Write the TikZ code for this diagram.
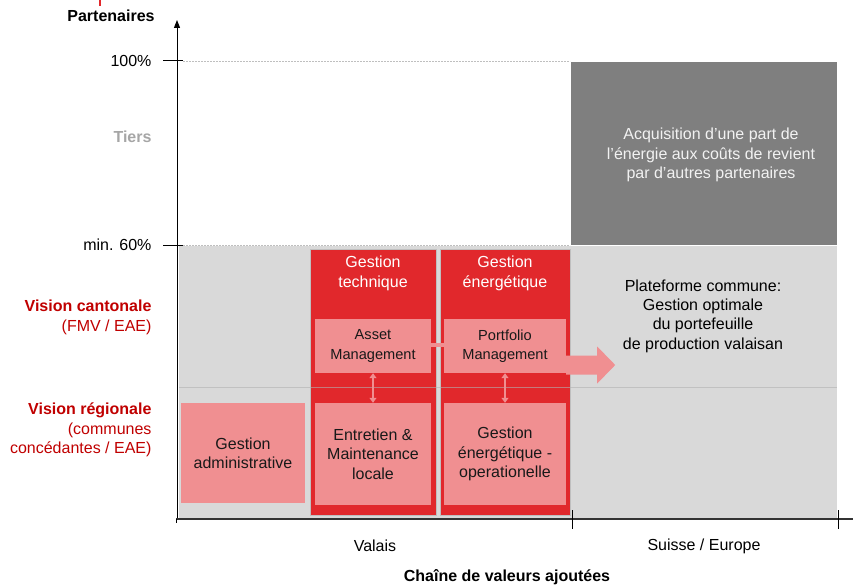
\documentclass[tikz,border=0pt]{standalone}
\usepackage{fontspec}
\setmainfont{Liberation Sans}
\usetikzlibrary{arrows.meta,calc}
\definecolor{cred}{HTML}{E1282C}
\definecolor{cpink}{HTML}{F08F91}
\definecolor{clgray}{HTML}{D9D9D9}
\definecolor{cdgray}{HTML}{7F7F7F}
\definecolor{cdred}{HTML}{C00000}
\definecolor{ctiers}{HTML}{A6A6A6}
\tikzset{
  colbox/.style={fill=cred, draw=black!25, line width=0.6pt, inner sep=0pt},
  pinkbox/.style={fill=cpink, inner sep=0pt, align=center, text=black!90},
  hdr/.style={text=white, align=center},
  lbl/.style={anchor=east, align=right},
  dashln/.style={black!25, dashed, dash pattern=on 2pt off 1pt, line width=0.5pt},
  dbl/.style={cpink, line width=2.2pt, {Triangle[width=7pt,length=5pt]}-{Triangle[width=7pt,length=5pt]}},
  axis/.style={black, line width=1pt},
  boldtxt/.style={font=\fontsize{16}{19.3}\selectfont\bfseries},
}
\begin{document}
\begin{tikzpicture}[x=1pt,y=-1pt, font=\fontsize{16}{19.3}\selectfont]
\useasboundingbox (0,0) rectangle (853,585);
% background areas
\fill[clgray] (179,246) rectangle (837,518);
\node[fill=cdgray, minimum width=266, minimum height=183, inner sep=0pt] (acq) at (704,153.5) {};
\node[text=white!95!black, align=center] (acqt) at (711,155) {Acquisition d’une part de\\l’énergie aux coûts de revient\\par d’autres partenaires};
\draw[dashln] (183,61) -- (570,61);
\draw[dashln] (183,245) -- (570,245);
% columns
\node[colbox, minimum width=126, minimum height=266] (c1) at (373,382) {};
\node[colbox, minimum width=130, minimum height=266] (c2) at (505,382) {};
\draw[black!30, opacity=0.6, line width=0.5pt] (179,387) -- (837,387);
\node[hdr] (h1) at (373,273.5) {Gestion\\technique};
\node[hdr] (h2) at (505,273.5) {Gestion\\énergétique};
% boxes
\node[pinkbox, minimum width=116, minimum height=54, font=\fontsize{14.6}{19.3}\selectfont] (am) at (373,346) {Asset\\Management};
\node[pinkbox, minimum width=122, minimum height=54, font=\fontsize{14.6}{19.3}\selectfont] (pm) at (505,346) {Portfolio\\Management};
\node[pinkbox, minimum width=116, minimum height=102] (em) at (373,454) {Entretien \&\\Maintenance\\locale};
\node[pinkbox, minimum width=122, minimum height=102] (go) at (505,454) {Gestion\\énergétique -\\operationelle};
\node[pinkbox, minimum width=124, minimum height=100] (ga) at (243,453) {Gestion\\administrative};
% connectors
\draw[cpink, line width=4pt] ([yshift=1pt]am.east) -- ([yshift=1pt]pm.west);
\draw[dbl] (am.south) -- (em.north);
\draw[dbl] (pm.south) -- (go.north);
\fill[cpink] ([yshift=-9.5pt]pm.east) -- ++(31,0) -- ++(0,-9) -- ++(18,18.5) -- ++(-18,18.5) -- ++(0,-9) -- ++(-31,0) -- cycle;
\node[align=center] (plat) at (703,316) {Plateforme commune:\\Gestion optimale\\du portefeuille\\de production valaisan};
% axes
\coordinate (o) at (177,519);
\coordinate (ytop) at (177,20);
\coordinate (xend) at (853,519);
\draw[axis, -{Triangle[width=6pt,length=8pt]}] (o) -- (ytop);
\draw[black!80, line width=1.6pt] (176,519) -- (xend);
\draw[axis] (163,61) -- (183,61);
\draw[axis] (163,245) -- (183,245);
\draw[axis] (572,510) -- (572,529);
\draw[axis] (838,510) -- (838,529);
\draw[axis] (176,519) -- (176,523);
\draw[cred, line width=2pt] (100,0) -- (100,6);
% labels
\node[boldtxt] (part) at (111,16) {Partenaires};
\node[lbl] (l100) at (155,61) {100\%};
\node[lbl] (l60) at (155,245) {min. 60\%};
\node[lbl, text=ctiers, boldtxt] (tiers) at (155,137) {Tiers};
\node[lbl, text=cdred] (vc) at (155,317.5) {\textbf{Vision cantonale}\\(FMV / EAE)};
\node[lbl, text=cdred] (vr) at (155,430) {\textbf{Vision régionale}\\(communes\\concédantes / EAE)};
\node (val) at (375,546) {Valais};
\node (se) at (704,546) {Suisse / Europe};
\node[boldtxt] (chain) at (507,577) {Chaîne de valeurs ajoutées};
\end{tikzpicture}
\end{document}
